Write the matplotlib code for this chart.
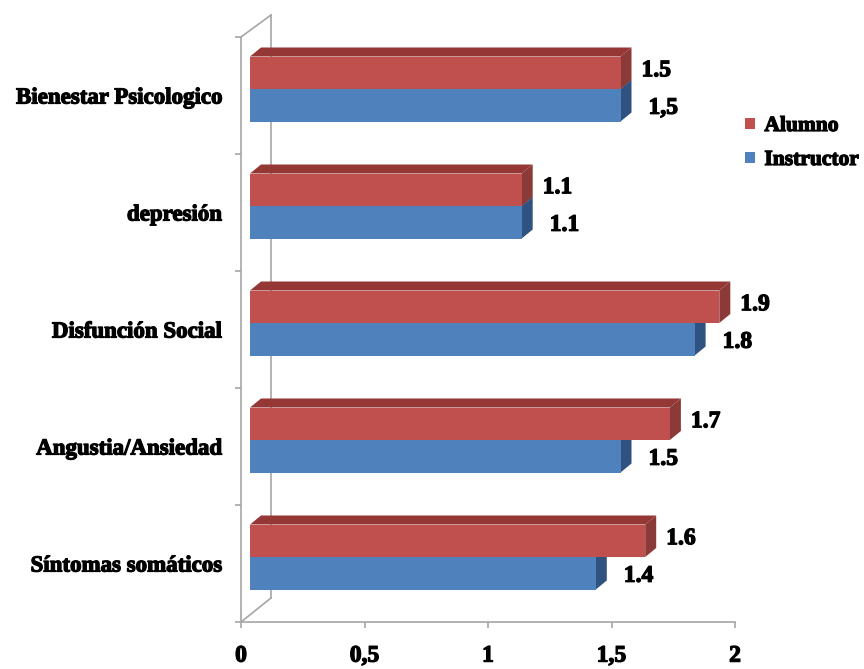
import matplotlib
matplotlib.use("Agg")
import matplotlib.pyplot as plt
import matplotlib.patheffects as pe
from matplotlib.patches import Polygon, Rectangle
from matplotlib.lines import Line2D

# ---- data ----
categories = ["Síntomas somáticos", "Angustia/Ansiedad", "Disfunción Social",
              "depresión", "Bienestar Psicologico"]
alumno = [1.6, 1.7, 1.9, 1.1, 1.5]
instructor = [1.4, 1.5, 1.8, 1.1, 1.5]
alumno_labels = ["1.6", "1.7", "1.9", "1.1", "1.5"]
instructor_labels = ["1.4", "1.5", "1.8", "1.1", "1,5"]
x_ticks = [0, 0.5, 1, 1.5, 2]
x_ticklabels = ["0", "0,5", "1", "1,5", "2"]
series_names = ["Alumno", "Instructor"]

# ---- styling ----
RED = "#C0504D"
RED_TOP = "#953735"
RED_SIDE = "#8C3A38"
BLUE = "#4F81BD"
BLUE_TOP = "#3A6394"
BLUE_SIDE = "#2F5280"
WALL = "#A6A6A6"
FONT = ["Liberation Serif", "DejaVu Serif"]
HEAVY = [pe.withStroke(linewidth=0.9, foreground="black")]

W, H, DPI = 864, 669, 100
fig = plt.figure(figsize=(W / DPI, H / DPI), dpi=DPI)
fig.patch.set_facecolor("white")

ax_left, ax_right, ax_top, ax_bottom = 241, 735, 37, 622
ax = fig.add_axes([ax_left / W, 1 - ax_bottom / H,
                   (ax_right - ax_left) / W, (ax_bottom - ax_top) / H])
ax.set_xlim(0, 2)
ax.set_ylim(-0.5, len(categories) - 0.5)

px_per_x = (ax_right - ax_left) / 2.0
px_per_y = (ax_bottom - ax_top) / len(categories)


def ddx(p):
    return p / px_per_x


def ddy(p):
    return p / px_per_y


# perspective depth of the bars and of the floor/wall
bar_shift = (9, 6.5)     # front face of bars sits behind the front plane
bar_depth = (11, 9)
floor_depth = (30, 23)
bar_h = ddy(32.5)


def draw_bar(left, y0, length, front, top, side):
    x0 = left
    x1 = left + length
    y1 = y0 + bar_h
    dx, dy = ddx(bar_depth[0]), ddy(bar_depth[1])
    ax.add_patch(Polygon([(x0, y1), (x1, y1), (x1 + dx, y1 + dy), (x0 + dx, y1 + dy)],
                         closed=True, facecolor=top, edgecolor="none", zorder=2))
    ax.add_patch(Polygon([(x1, y0), (x1, y1), (x1 + dx, y1 + dy), (x1 + dx, y0 + dy)],
                         closed=True, facecolor=side, edgecolor="none", zorder=2))
    ax.add_patch(Rectangle((x0, y0), length, bar_h, facecolor=front,
                           edgecolor="none", zorder=3))


left = ddx(bar_shift[0])
label_kw = dict(ha="left", va="center", fontsize=17, fontweight="bold",
                family=FONT, zorder=5, path_effects=HEAVY)
for i in range(len(categories)):
    yc = i + ddy(bar_shift[1])
    # lower bar first so the upper bar's front covers its top face
    draw_bar(left, yc - bar_h, instructor[i], BLUE, BLUE_TOP, BLUE_SIDE)
    draw_bar(left, yc, alumno[i], RED, RED_TOP, RED_SIDE)
    ax.text(left + alumno[i] + ddx(21), yc + bar_h / 2 + ddy(2), alumno_labels[i], **label_kw)
    ax.text(left + instructor[i] + ddx(28), yc - bar_h / 2 - ddy(3), instructor_labels[i], **label_kw)

# back wall and floor edges
fx = ddx(floor_depth[0])
ymin, ymax = -0.5, len(categories) - 0.5
wall_lines = [
    [(fx, ymin + ddy(24)), (fx, ymax + ddy(22))],
    [(0, ymax), (fx, ymax + ddy(22))],
    [(0, ymin), (fx, ymin + ddy(24))],
]
for pts in wall_lines:
    xs, ys = zip(*pts)
    ax.add_line(Line2D(xs, ys, color=WALL, lw=1.2, clip_on=False, zorder=1))

# axes
for s in ["top", "right"]:
    ax.spines[s].set_visible(False)
for s in ["left", "bottom"]:
    ax.spines[s].set_color(WALL)
    ax.spines[s].set_linewidth(1.2)
    ax.spines[s].set_zorder(1)

ax.set_xticks(x_ticks)
ax.set_xticklabels(x_ticklabels, fontsize=17, fontweight="bold", family=FONT)
ax.tick_params(axis="x", direction="out", length=4, width=1.2, color=WALL, pad=13)

ax.set_yticks(range(len(categories)))
ax.set_yticklabels(categories, fontsize=16.5, fontweight="bold", family=FONT)
ax.tick_params(axis="y", which="major", length=0, pad=14)
ax.set_yticks([k - 0.5 for k in range(len(categories) + 1)], minor=True)
ax.tick_params(axis="y", which="minor", direction="out", length=4, width=1.2, color=WALL)
for t in ax.get_xticklabels() + ax.get_yticklabels():
    t.set_path_effects(HEAVY)
ax.set_facecolor("none")

# legend
handles = [Rectangle((0, 0), 1, 1, facecolor=RED, edgecolor="none"),
           Rectangle((0, 0), 1, 1, facecolor=BLUE, edgecolor="none")]
leg = fig.legend(handles, series_names, loc="upper left",
                 bbox_to_anchor=(745 / W, 1 - 116 / H), frameon=False,
                 borderpad=0, borderaxespad=0,
                 prop={"family": FONT, "weight": "bold", "size": 15.5},
                 handlelength=0.45, handleheight=0.45, handletextpad=0.45,
                 labelspacing=0.65)
for t in leg.get_texts():
    t.set_path_effects(HEAVY)

fig.savefig("out.png", dpi=DPI, facecolor="white")
